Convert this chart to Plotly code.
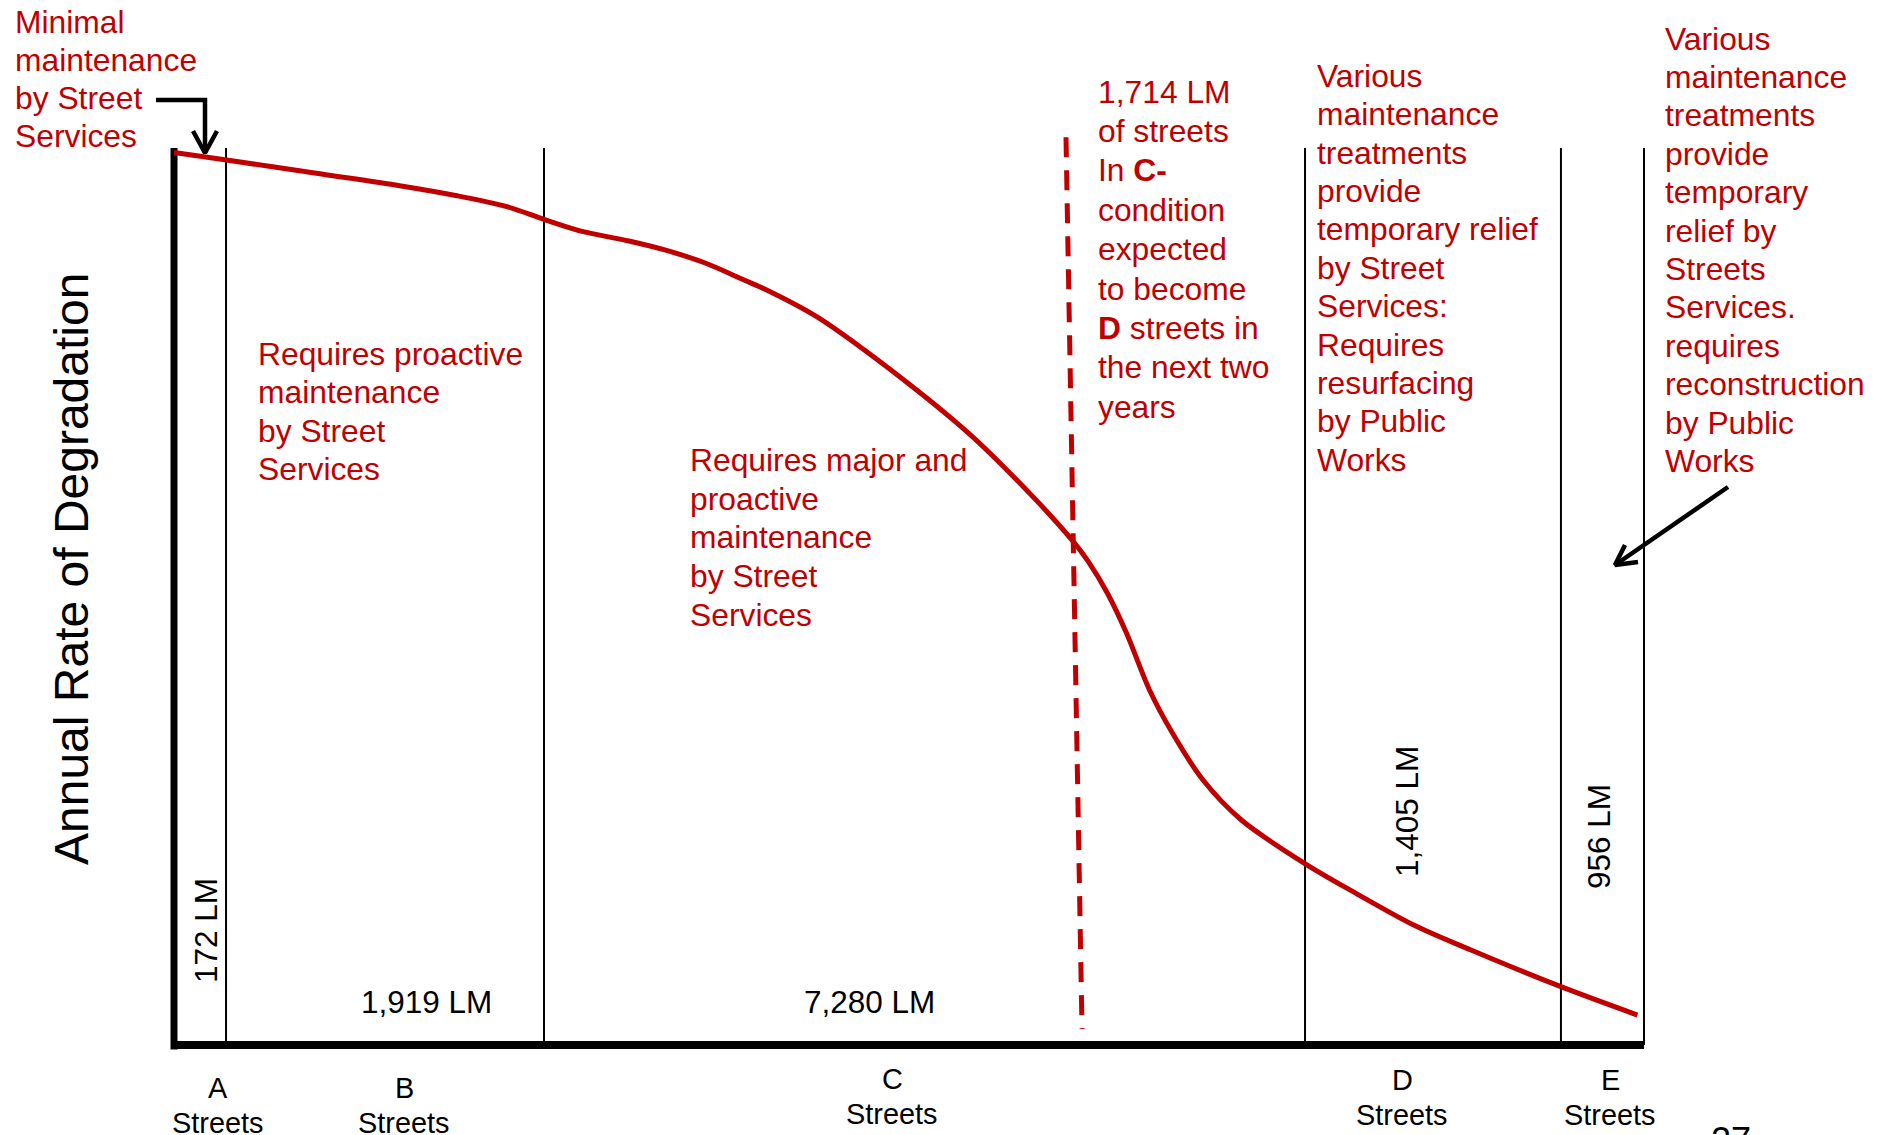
import plotly.graph_objects as go

W, H = 1887, 1135
RED = "#C00000"
FONT = "Arial, Liberation Sans, sans-serif"

# Page-pixel frame of the chart box: position 0..100 runs left to right,
# rate 0..100 runs bottom to top.
BOX_L, BOX_R = 174, 1644
BOX_B, BOX_T = 1045, 148


def px_x(p):
    return (p - BOX_L) / (BOX_R - BOX_L) * 100


def px_y(p):
    return (BOX_B - p) / (BOX_B - BOX_T) * 100


# Deterioration curve: position along the street network vs. annual rate of degradation
curve_pos = [0, 3.58, 10.14, 15.35, 19.25, 22.64, 25.16, 27.84, 30.95, 33.57,
             36.18, 38.78, 40.32, 43.72, 47.12, 50.52, 53.01, 55.05, 57.33, 59.59,
             61.18, 62.20, 63.50, 64.80, 66.36, 67.93, 70.00, 72.61, 76.90, 80.41,
             84.33, 88.23, 94.35, 99.55]
curve_rate = [99.5, 98.66, 97.07, 95.80, 94.68, 93.46, 92.05, 90.67, 89.63, 88.55,
              87.15, 85.28, 84.16, 81.19, 77.29, 73.02, 69.68, 66.70, 62.99, 59.09,
              56.11, 53.88, 50.36, 45.90, 39.58, 34.75, 29.54, 25.08, 20.26, 16.91,
              13.38, 10.59, 6.50, 3.34]

# Street condition classes and their right-hand boundaries
streets = ["A", "B", "C", "D", "E"]
class_bounds = [3.54, 25.17, 76.94, 94.35, 100]
lengths_lm = [172, 1919, 7280, 1405, 956]

# C streets expected to slip into D condition
threshold_pos = [60.68, 61.77]
threshold_rate = [101.2, 1.78]
threshold_lm = 1714

fig = go.Figure()

# class dividers
div_x, div_y = [], []
for b in class_bounds:
    div_x += [b, b, None]
    div_y += [0, 100, None]
fig.add_trace(go.Scatter(x=div_x, y=div_y, mode="lines",
                         line=dict(color="black", width=2), hoverinfo="skip"))

# heavy axes
fig.add_trace(go.Scatter(x=[0, 0], y=[-0.5, 100], mode="lines",
                         line=dict(color="black", width=7), hoverinfo="skip"))
fig.add_trace(go.Scatter(x=[0, 100], y=[0, 0], mode="lines",
                         line=dict(color="black", width=8), hoverinfo="skip"))

# threshold
fig.add_trace(go.Scatter(x=threshold_pos, y=threshold_rate, mode="lines",
                         line=dict(color=RED, width=5, dash="20px,13px"),
                         hoverinfo="skip"))

# degradation curve
fig.add_trace(go.Scatter(x=curve_pos, y=curve_rate, mode="lines",
                         line=dict(color=RED, width=5, shape="spline", smoothing=0.9),
                         hoverinfo="skip"))

# pointer arrows (shaft + open head)
arrow_paths = [
    ([px_x(156), px_x(205), px_x(205)], [px_y(100), px_y(100), px_y(153)]),
    ([px_x(193), px_x(205), px_x(217)], [px_y(131), px_y(153), px_y(131)]),
    ([px_x(1728), px_x(1615)], [px_y(487), px_y(565)]),
    ([px_x(1625), px_x(1615), px_x(1638)], [px_y(545), px_y(565), px_y(562)]),
]
for ax_, ay_ in arrow_paths:
    fig.add_trace(go.Scatter(x=ax_, y=ay_, mode="lines",
                             line=dict(color="black", width=4.5),
                             hoverinfo="skip"))


def note(text, x, y, size=31.8, color=RED, xanchor="left", angle=0, yanchor="middle"):
    fig.add_annotation(text=text, x=px_x(x), y=px_y(y), xref="x", yref="y",
                       showarrow=False, xanchor=xanchor, yanchor=yanchor,
                       align="left" if xanchor == "left" else "center",
                       textangle=angle, font=dict(family=FONT, size=size, color=color))


def block(lines, x, y_first, step=38.4, size=31.8, color=RED, xanchor="left"):
    # one annotation per line keeps the tight line spacing
    for i, ln in enumerate(lines):
        note(ln, x, y_first + i * step, size=size, color=color, xanchor=xanchor)


# red commentary
block(["Minimal", "maintenance", "by Street", "Services"], 13, 21.7, step=38.1)
block(["Requires proactive", "maintenance", "by Street", "Services"], 256, 353.8, step=38.5)
block(["Requires major and", "proactive", "maintenance", "by Street", "Services"],
      688, 459.7, step=38.8)
block([f"{threshold_lm:,} LM", "of streets", "In <b>C-</b>", "condition", "expected",
       "to become", "<b>D</b> streets in", "the next two", "years"], 1096, 91.5, step=39.4)
block(["Various", "maintenance", "treatments", "provide", "temporary relief", "by Street",
       "Services:", "Requires", "resurfacing", "by Public", "Works"], 1315, 75.8)
block(["Various", "maintenance", "treatments", "provide", "temporary", "relief by",
       "Streets", "Services.", "requires", "reconstruction", "by Public", "Works"],
      1663, 38.5)

# lane-mile totals per class
len_pos = [(206, 931, -90), (426, 1002, 0), (869, 1002, 0), (1407, 812, -90), (1599, 837, -90)]
for v, (lx, ly, ang) in zip(lengths_lm, len_pos):
    note(f"{v:,} LM", lx, ly, size=31.5, color="black", xanchor="center", angle=ang)

# class names under the axis
cat_pos = [(218, 1088), (404, 1088), (892, 1079), (1402, 1080), (1610, 1080)]
for s, (cx, cy) in zip(streets, cat_pos):
    block([s, "Streets"], cx, cy, step=34.6, size=28.9, color="black", xanchor="center")

# axis title
note("Annual Rate of Degradation", 71, 569, size=48, color="black",
     xanchor="center", angle=-90)

# page number
note("27", 1731, 1118, size=36, color="black", xanchor="center", yanchor="top")

fig.update_layout(
    width=W, height=H, margin=dict(l=0, r=0, t=0, b=0),
    paper_bgcolor="white", plot_bgcolor="white", showlegend=False,
    xaxis=dict(range=[px_x(0), px_x(W)], visible=False, fixedrange=True),
    yaxis=dict(range=[px_y(H), px_y(0)], visible=False, fixedrange=True),
)

fig.write_html("out.html")
